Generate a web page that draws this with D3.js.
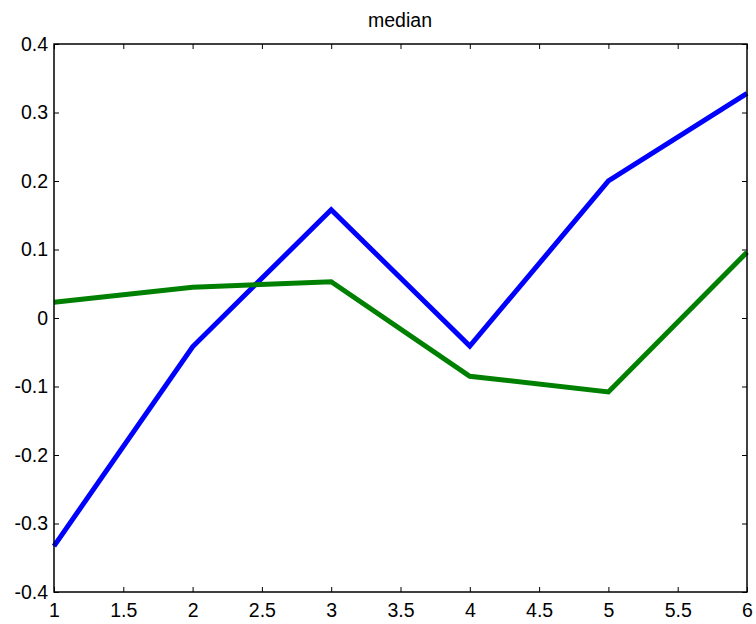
<!DOCTYPE html>
<html lang="en">
<head>
<meta charset="UTF-8" />
<title>median</title>
<script src="https://cdnjs.cloudflare.com/ajax/libs/d3/7.8.5/d3.min.js"></script>
<style>
    body { margin: 0; padding: 0; background: #fff; }
    .domain { display: none; }
</style>
</head>
<body>
<svg width="756" height="624"></svg>
<script>
    var xs = [1, 2, 3, 4, 5, 6];
    var blueVals = [-0.333, -0.042, 0.158, -0.041, 0.200, 0.328];
    var greenVals = [0.023, 0.045, 0.053, -0.085, -0.108, 0.096];
    var xTicks = [1, 1.5, 2, 2.5, 3, 3.5, 4, 4.5, 5, 5.5, 6];
    var yTicks = [-0.4, -0.3, -0.2, -0.1, 0, 0.1, 0.2, 0.3, 0.4];

    var svg = d3.select('svg'),
        mLeft = 54, mRight = 747, mTop = 44, mBottom = 592;

    var x = d3.scaleLinear().domain([1, 6]).range([mLeft, mRight]);
    var y = d3.scaleLinear().domain([-0.4, 0.4]).range([mBottom, mTop]);
    var fmt = function(d) { return String(d); };

    // title
    svg.append('text')
        .attr('x', 400)
        .attr('y', 27)
        .attr('text-anchor', 'middle')
        .style('font-family', '"Liberation Sans", Arial, sans-serif')
        .style('font-size', '19.5px')
        .text('median');

    // axes (ticks inward, mirrored on top/right)
    svg.append('g')
        .attr('transform', 'translate(0,' + mBottom + ')')
        .call(d3.axisBottom(x).tickValues(xTicks).tickSize(-5).tickPadding(11).tickFormat(fmt));
    svg.append('g')
        .attr('transform', 'translate(0,' + mTop + ')')
        .call(d3.axisTop(x).tickValues(xTicks).tickSize(-5).tickFormat(''));
    svg.append('g')
        .attr('transform', 'translate(' + mLeft + ',0)')
        .call(d3.axisLeft(y).tickValues(yTicks).tickSize(-5).tickPadding(6).tickFormat(fmt));
    svg.append('g')
        .attr('transform', 'translate(' + mRight + ',0)')
        .call(d3.axisRight(y).tickValues(yTicks).tickSize(-5).tickFormat(''));

    svg.selectAll('.tick line').attr('stroke', '#000').attr('stroke-width', 1);
    svg.selectAll('.tick text')
        .attr('fill', '#000')
        .style('font-family', '"Liberation Sans", Arial, sans-serif')
        .style('font-size', '19.5px');

    var line = d3.line()
        .x(function(d, i) { return x(xs[i]); })
        .y(function(d) { return y(d); });

    svg.append('path')
        .datum(blueVals)
        .attr('fill', 'none')
        .attr('stroke', '#0000ff')
        .attr('stroke-width', 5)
        .attr('d', line);

    svg.append('path')
        .datum(greenVals)
        .attr('fill', 'none')
        .attr('stroke', '#008000')
        .attr('stroke-width', 5)
        .attr('d', line);

    // box
    svg.append('rect')
        .attr('x', mLeft)
        .attr('y', mTop)
        .attr('width', mRight - mLeft)
        .attr('height', mBottom - mTop)
        .attr('fill', 'none')
        .attr('stroke', '#000')
        .attr('stroke-width', 1.5);
</script>
</body>
</html>
